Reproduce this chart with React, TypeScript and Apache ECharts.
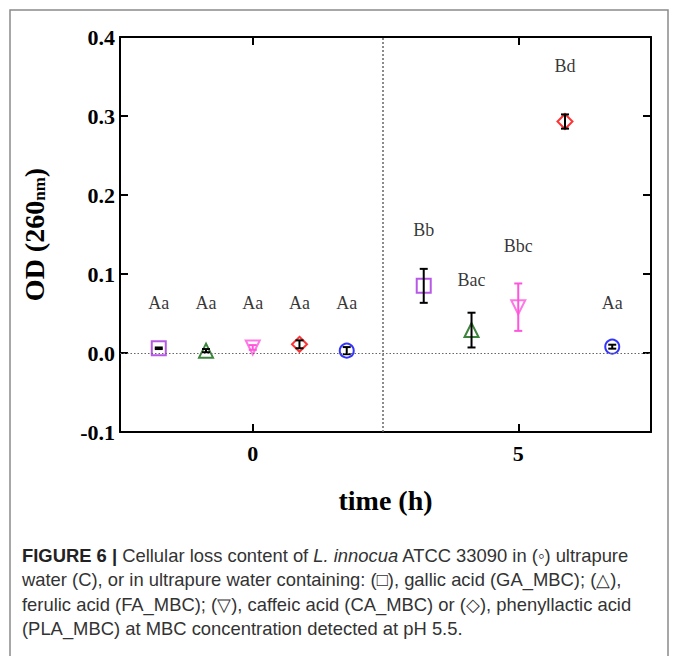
import React, { useEffect, useRef } from "react";
import * as echarts from "echarts";

// ---- data ----
const xTicks = [0, 5];
const yMin = -0.1;
const yMax = 0.4;
const xMin = -2.5;
const xMax = 7.5;
const dividerX = 2.45;

// per treatment: x positions (time, jittered), mean OD, error (±), letter labels, label heights
const gaX = [-1.77, 3.22];
const gaY = [0.006, 0.085];
const gaErr = [0.001, 0.0215];
const gaLabels = ["Aa", "Bb"];
const gaLabelY = [0.063, 0.156];

const faX = [-0.88, 4.12];
const faY = [0.003, 0.029];
const faErr = [0.002, 0.022];
const faLabels = ["Aa", "Bac"];
const faLabelY = [0.063, 0.092];

const caX = [0, 5];
const caY = [0.007, 0.058];
const caErr = [0.003, 0.03];
const caLabels = ["Aa", "Bbc"];
const caLabelY = [0.063, 0.135];

const plaX = [0.88, 5.88];
const plaY = [0.011, 0.293];
const plaErr = [0.005, 0.009];
const plaLabels = ["Aa", "Bd"];
const plaLabelY = [0.063, 0.363];

const cX = [1.77, 6.77];
const cY = [0.003, 0.008];
const cErr = [0.0045, 0.0025];
const cLabels = ["Aa", "Aa"];
const cLabelY = [0.063, 0.063];

const captionLines = [
  "{b|FIGURE 6 |} Cellular loss content of {i|L. innocua} ATCC 33090 in (◦) ultrapure",
  "water (C), or in ultrapure water containing: (□), gallic acid (GA_MBC); (△),",
  "ferulic acid (FA_MBC); (▽), caffeic acid (CA_MBC) or (◇), phenyllactic acid",
  "(PLA_MBC) at MBC concentration detected at pH 5.5.",
];

const SERIF = "'Liberation Serif', 'Times New Roman', serif";
const SANS = "'Liberation Sans', Arial, sans-serif";

type Treat = {
  name: string;
  x: number[];
  y: number[];
  err: number[];
  labels: string[];
  labelY: number[];
  symbol: string;
  rotate: number;
  size: number;
  color: string;
  errColor: string;
};

const treatments: Treat[] = [
  { name: "GA_MBC", x: gaX, y: gaY, err: gaErr, labels: gaLabels, labelY: gaLabelY, symbol: "rect", rotate: 0, size: 14, color: "#a52ee0", errColor: "#000" },
  { name: "FA_MBC", x: faX, y: faY, err: faErr, labels: faLabels, labelY: faLabelY, symbol: "triangle", rotate: 0, size: 14, color: "#0b650b", errColor: "#000" },
  { name: "CA_MBC", x: caX, y: caY, err: caErr, labels: caLabels, labelY: caLabelY, symbol: "triangle", rotate: 180, size: 14, color: "#ff55dd", errColor: "#ff55dd" },
  { name: "PLA_MBC", x: plaX, y: plaY, err: plaErr, labels: plaLabels, labelY: plaLabelY, symbol: "diamond", rotate: 0, size: 15, color: "#ff0000", errColor: "#000" },
  { name: "C", x: cX, y: cY, err: cErr, labels: cLabels, labelY: cLabelY, symbol: "circle", rotate: 0, size: 14, color: "#0000ff", errColor: "#000" },
];

export default function App() {
  const ref = useRef<HTMLDivElement>(null);

  useEffect(() => {
    if (!ref.current) return;
    const chart = echarts.init(ref.current, null, { renderer: "svg" });

    const series: any[] = [];
    treatments.forEach((t) => {
      series.push({
        type: "scatter",
        name: t.name,
        data: t.x.map((x, i) => [x, t.y[i]]),
        symbol: t.symbol,
        symbolRotate: t.rotate,
        symbolSize: t.size,
        itemStyle: { color: "rgba(255,255,255,0)", borderColor: t.color, borderWidth: 2 },
        z: 3,
      });
      series.push({
        type: "custom",
        name: t.name + "_err",
        data: t.x.map((x, i) => [x, t.y[i] - t.err[i], t.y[i] + t.err[i]]),
        encode: { x: 0, y: [1, 2] },
        z: 4,
        renderItem: (params: any, api: any) => {
          const x = api.value(0);
          const lo = api.coord([x, api.value(1)]);
          const hi = api.coord([x, api.value(2)]);
          const cap = 4;
          const st = { stroke: t.errColor, lineWidth: 2 };
          return {
            type: "group",
            children: [
              { type: "line", shape: { x1: lo[0], y1: lo[1], x2: hi[0], y2: hi[1] }, style: st },
              { type: "line", shape: { x1: lo[0] - cap, y1: lo[1], x2: lo[0] + cap, y2: lo[1] }, style: st },
              { type: "line", shape: { x1: hi[0] - cap, y1: hi[1], x2: hi[0] + cap, y2: hi[1] }, style: st },
            ],
          };
        },
      });
      series.push({
        type: "scatter",
        name: t.name + "_lbl",
        data: t.x.map((x, i) => [x, t.labelY[i], t.labels[i]]),
        symbolSize: 0,
        silent: true,
        z: 5,
        label: {
          show: true,
          position: "inside",
          formatter: (p: any) => p.value[2],
          fontFamily: SERIF,
          fontSize: 18,
          color: "#000",
        },
      });
    });

    // reference lines
    series.push({
      type: "line",
      data: [],
      markLine: {
        silent: true,
        symbol: "none",
        label: { show: false },
        data: [
          { yAxis: 0, lineStyle: { type: [1.5, 2], color: "#666", width: 1 } },
          { xAxis: dividerX, lineStyle: { type: [2, 2], color: "#666", width: 1.5 } },
        ],
      },
      z: 1,
    });

    const axisLine = { show: true, onZero: false, lineStyle: { color: "#000", width: 2 } };

    chart.setOption({
      animation: false,
      grid: { left: 120, right: 24, top: 37, bottom: 224 },
      xAxis: [
        {
          type: "value",
          min: xMin,
          max: xMax,
          position: "bottom",
          axisLine,
          splitLine: { show: false },
          axisTick: { show: true, inside: true, length: 8, customValues: xTicks, lineStyle: { color: "#000", width: 2 } },
          axisLabel: {
            customValues: xTicks,
            fontFamily: SERIF,
            fontWeight: "bold",
            fontSize: 22,
            color: "#000",
            margin: 10,
          },
          name: "time (h)",
          nameLocation: "middle",
          nameGap: 54,
          nameTextStyle: { fontFamily: SERIF, fontWeight: "bold", fontSize: 28, color: "#000" },
        },
        {
          type: "value",
          min: xMin,
          max: xMax,
          position: "top",
          axisLine,
          splitLine: { show: false },
          axisTick: { show: true, inside: true, length: 8, customValues: xTicks, lineStyle: { color: "#000", width: 2 } },
          axisLabel: { show: false },
        },
      ],
      yAxis: [
        {
          type: "value",
          min: yMin,
          max: yMax,
          interval: 0.1,
          position: "left",
          axisLine,
          splitLine: { show: false },
          axisTick: { show: true, inside: true, length: 8, lineStyle: { color: "#000", width: 2 } },
          axisLabel: {
            formatter: (v: number) => v.toFixed(1),
            fontFamily: SERIF,
            fontWeight: "bold",
            fontSize: 22,
            color: "#000",
            margin: 5,
          },
          name: "{a|OD (260}{b|nm}{a|)}",
          nameLocation: "middle",
          nameGap: 72,
          nameRotate: 90,
          nameTextStyle: {
            rich: {
              a: { fontFamily: SERIF, fontWeight: "bold", fontSize: 28, color: "#000", verticalAlign: "bottom" },
              b: { fontFamily: SERIF, fontWeight: "bold", fontSize: 17, color: "#000", verticalAlign: "bottom" },
            },
          },
        },
        {
          type: "value",
          min: yMin,
          max: yMax,
          interval: 0.1,
          position: "right",
          axisLine,
          splitLine: { show: false },
          axisTick: { show: true, inside: true, length: 8, lineStyle: { color: "#000", width: 2 } },
          axisLabel: { show: false },
        },
      ],
      series,
      graphic: [
        {
          type: "rect",
          shape: { x: 10, y: 10, width: 658, height: 700 },
          style: { fill: "none", stroke: "#8a8a8a", lineWidth: 1.5 },
          silent: true,
          z: -1,
        },
        ...captionLines.map((line, i) => ({
          type: "text",
          left: 22,
          top: 546 + i * 24.5,
          style: {
            text: line,
            fontFamily: SANS,
            fontSize: 18.4,
            fill: "#333",
            rich: {
              b: { fontFamily: SANS, fontSize: 18.4, fontWeight: "bold", fill: "#222" },
              i: { fontFamily: SANS, fontSize: 18.4, fontStyle: "italic", fill: "#333" },
            },
          },
        })),
      ],
    });

    return () => chart.dispose();
  }, []);

  return (
    <div
      ref={ref}
      style={{ position: "absolute", left: 0, top: 0, width: 675, height: 656, background: "#fff" }}
    />
  );
}
